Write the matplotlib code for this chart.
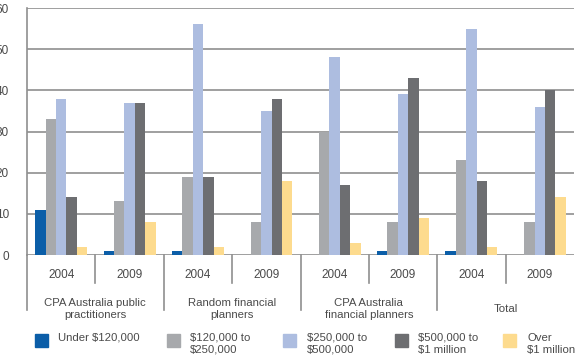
import numpy as np
import matplotlib
matplotlib.use("Agg")
import matplotlib.pyplot as plt
from matplotlib.patches import Rectangle

plt.rcParams['font.family'] = ['Liberation Sans', 'DejaVu Sans']

groups = ["CPA Australia public\npractitioners", "Random financial\nplanners",
          "CPA Australia\nfinancial planners", "Total"]
years = ["2004", "2009"] * 4
series = ["Under $120,000", "$120,000 to\n$250,000", "$250,000 to\n$500,000",
          "$500,000 to\n$1 million", "Over\n$1 million"]
colors = ["#0b5ea8", "#a7a9ac", "#adbde0", "#6d6e71", "#fddb8e"]

under_120k = [11, 1, 1, 0, 0, 1, 1, 0]
k120_250 = [33, 13, 19, 8, 30, 8, 23, 8]
k250_500 = [38, 37, 56, 35, 48, 39, 55, 36]
k500_1m = [14, 37, 19, 38, 17, 43, 18, 40]
over_1m = [2, 8, 2, 18, 3, 9, 2, 14]
values = [under_120k, k120_250, k250_500, k500_1m, over_1m]

W, H = 576, 362
fig = plt.figure(figsize=(W / 100, H / 100), dpi=100)
ax = fig.add_axes([27 / W, 1 - 255 / H, (574 - 27) / W, (255 - 8) / H])

line_c = "#8f8f8f"
text_c = "#4a4a4a"
x = np.arange(len(years))
bw = 0.152
for i, (vals, col) in enumerate(zip(values, colors)):
    ax.bar(x + (i - 2) * bw, vals, width=bw, color=col, zorder=3)

ax.set_xlim(-0.5, 7.5)
ax.set_ylim(0, 60)
ax.set_yticks(range(0, 61, 10))
ax.yaxis.grid(True, color=line_c, lw=1.2, zorder=0)
ax.set_xticks([])
for s in ["top", "right", "bottom"]:
    ax.spines[s].set_visible(False)
ax.spines["left"].set_color(line_c)
ax.spines["left"].set_linewidth(1.2)
ax.tick_params(axis="y", length=0, pad=13, labelsize=8.5, labelcolor=text_c)

# category table under the axis
tr = ax.get_xaxis_transform()
ah = 247.0
for k in range(1, 8):
    depth = 55 if k % 2 == 0 else 28
    ax.plot([k - 0.5, k - 0.5], [0, -depth / ah], color=line_c, lw=1.2,
            transform=tr, clip_on=False)
ax.plot([-0.5, -0.5], [0, -55 / ah], color=line_c, lw=1.2, transform=tr, clip_on=False)
for k, yr in enumerate(years):
    ax.text(k, -20 / ah, yr, transform=tr, ha="center", va="center",
            fontsize=8.5, color=text_c)
for g, name in enumerate(groups):
    ax.text(2 * g + 0.5, -54 / ah, name, transform=tr, ha="center", va="center",
            fontsize=8.2, color=text_c, linespacing=1.2)

# legend
sq_x = [35, 167, 283, 395, 503]
tx_x = [58, 190, 307, 418, 527]
for sx, tx, name, col in zip(sq_x, tx_x, series, colors):
    fig.patches.append(Rectangle((sx / W, 1 - 347 / H), 13 / W, 13 / H,
                                 transform=fig.transFigure, color=col))
    fig.text(tx / W, 1 - 333 / H, name, ha="left", va="top",
             fontsize=8.2, color=text_c, linespacing=1.2)

fig.savefig("out.png", dpi=100)
